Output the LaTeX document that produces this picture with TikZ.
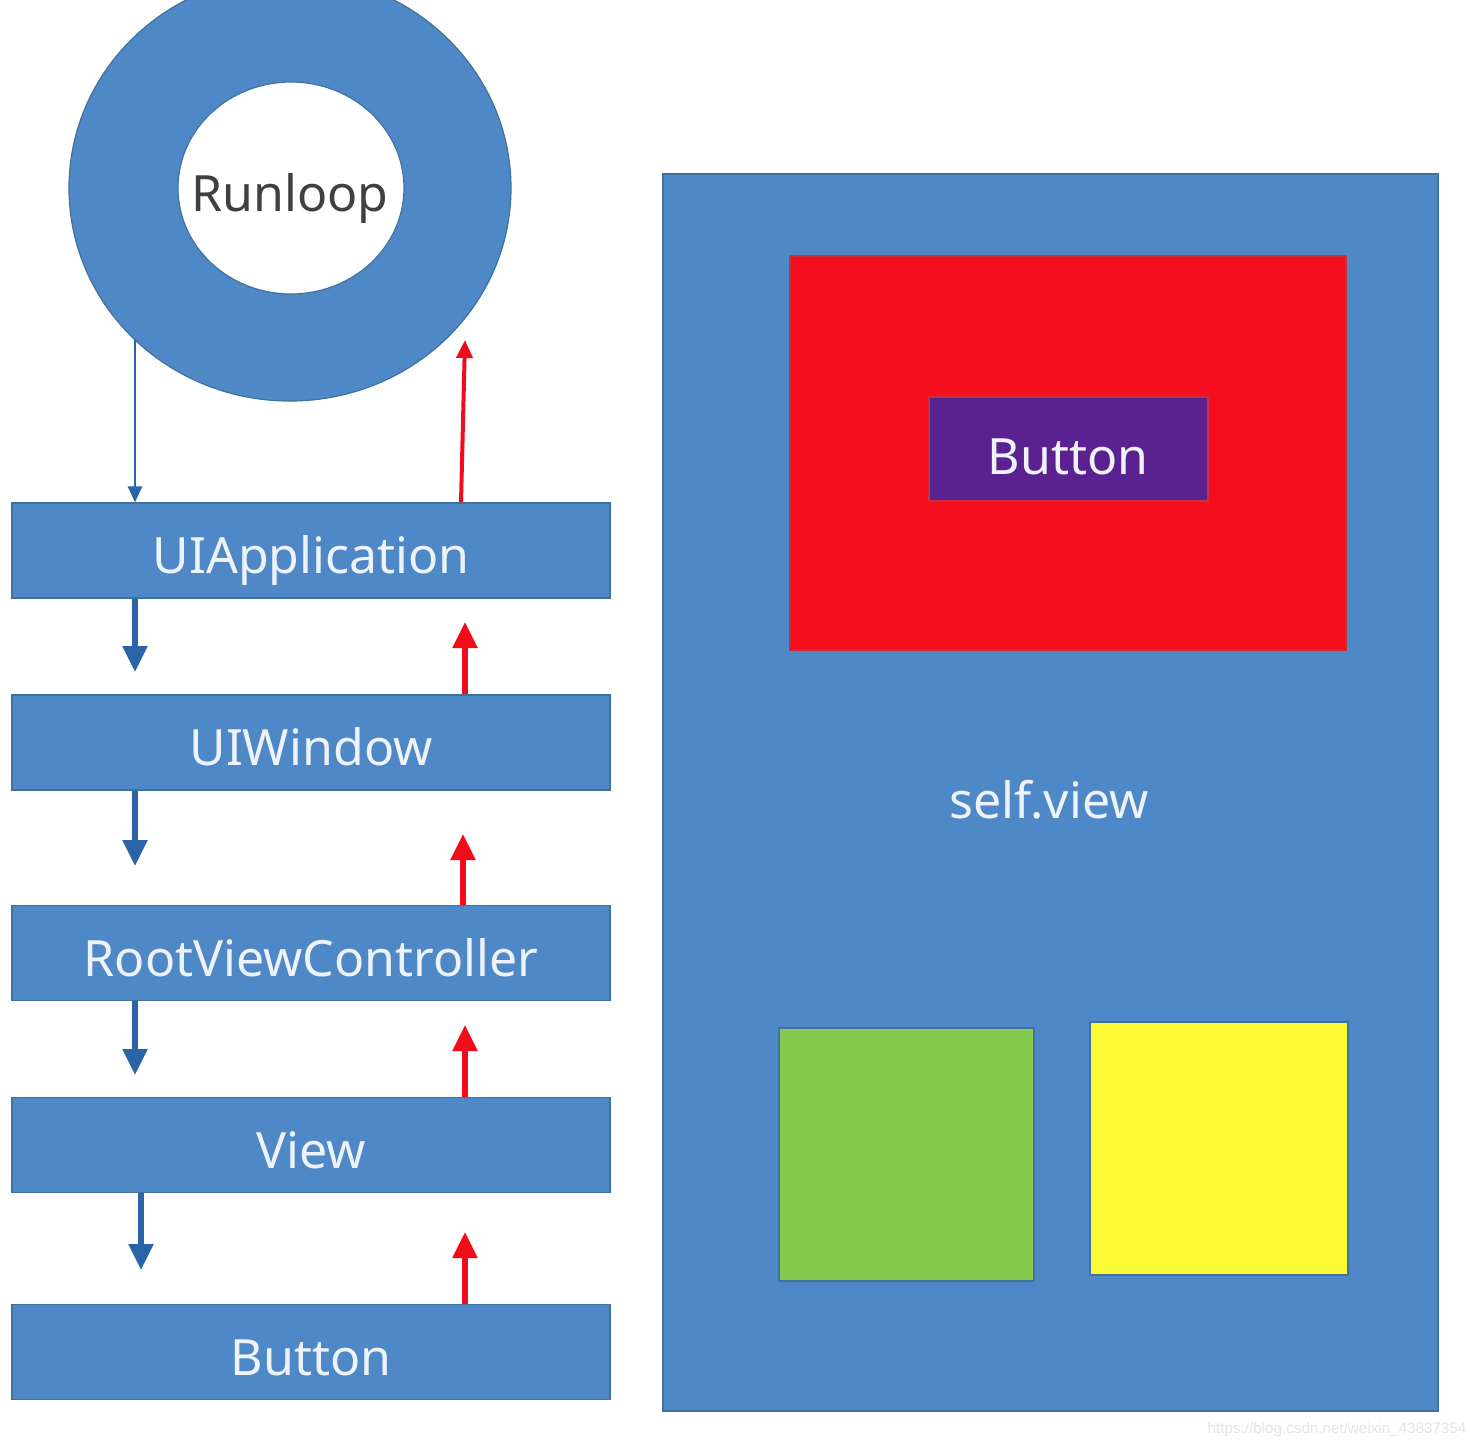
\documentclass[tikz,border=0pt]{standalone}
\usepackage{fontspec}
\setmainfont{Noto Sans}
\newfontfamily\wmfont{Liberation Sans}
\usetikzlibrary{arrows.meta,shapes.geometric}
\definecolor{boxblue}{HTML}{4F88C6}
\definecolor{edgeblue}{HTML}{41719C}
\definecolor{arrblue}{HTML}{2B63A8}
\definecolor{arrred}{HTML}{F20C1A}
\definecolor{btnred}{HTML}{F50E1E}
\definecolor{edgered}{HTML}{C8303A}
\definecolor{btnpurple}{HTML}{5C2190}
\definecolor{grn}{HTML}{86C94F}
\definecolor{ylw}{HTML}{FDFA36}
\definecolor{txtwhite}{HTML}{EEF3FA}
\begin{document}
\begin{tikzpicture}[x=0.5pt,y=-0.5pt,
  bigfont/.style={font=\fontsize{25}{30}\selectfont, text height=27pt, text depth=3.6pt},
  layerbox/.style={draw=edgeblue, fill=boxblue, line width=0.6pt, minimum width=299pt, minimum height=47.5pt, inner sep=0pt, text=txtwhite, bigfont},
  plainbox/.style={draw=edgeblue, line width=0.6pt, inner sep=0pt},
  downarr/.style={draw=arrblue, line width=2.6pt, -{Triangle[width=12pt,length=13pt]}},
  uparr/.style={draw=arrred, line width=2.6pt, -{Triangle[width=12pt,length=13pt]}},
  ringdown/.style={draw=arrblue, line width=1.4pt, -{Triangle[width=7pt,length=8pt]}},
  ringup/.style={draw=arrred, line width=2pt, -{Triangle[width=8pt,length=9pt]}}]
\useasboundingbox (0,0) rectangle (1482,1448);
\fill[white] (0,0) rectangle (1482,1448);

% Runloop ring
\node[ellipse, draw=edgeblue, fill=boxblue, line width=0.6pt, minimum width=221pt, minimum height=213pt, inner sep=0pt] (ring) at (290,188) {};
\node[ellipse, draw=edgeblue, fill=white, line width=0.6pt, minimum width=113pt, minimum height=106pt, inner sep=0pt] (hole) at (291,188) {};
\node[text=black!75, bigfont, inner sep=0pt] (runloop) at (290,188) {Runloop};

% layer boxes
\node[layerbox] (app)  at (311,550.5) {UIApplication};
\node[layerbox] (win)  at (311,742.5) {UIWindow};
\node[layerbox] (root) at (311,953)   {RootViewController};
\node[layerbox] (view) at (311,1145)  {View};
\node[layerbox] (btn)  at (311,1352)  {Button};

% arrow end points
\coordinate (r0) at (135,340);
\coordinate (u0) at (465,340);
\coordinate (u0s) at (461,0);
\coordinate (d1) at (135,672);
\coordinate (d2) at (135,866);
\coordinate (d3) at (135,1075);
\coordinate (d4) at (141,1270);
\coordinate (u1) at (465,622);
\coordinate (u2) at (463,834);
\coordinate (u3) at (465,1025);
\coordinate (u4) at (465,1232);

\draw[ringdown] (r0) -- (r0|-app.north);
\draw[ringup] (u0s|-app.north) -- (u0);
\draw[downarr] (d1|-app.south) -- (d1);
\draw[downarr] (d2|-win.south) -- (d2);
\draw[downarr] (d3|-root.south) -- (d3);
\draw[downarr] (d4|-view.south) -- (d4);
\draw[uparr] (u1|-win.north) -- (u1);
\draw[uparr] (u2|-root.north) -- (u2);
\draw[uparr] (u3|-view.north) -- (u3);
\draw[uparr] (u4|-btn.north) -- (u4);

% right panel
\node[plainbox, fill=boxblue, minimum width=387.5pt, minimum height=618.5pt] (selfview) at (1050.5,792.5) {};
\node[text=txtwhite, bigfont, inner sep=0pt] (selflabel) at (1049,795) {self.view};
\node[draw=edgered, fill=btnred, line width=0.6pt, inner sep=0pt, minimum width=278pt, minimum height=197pt] (redview) at (1068,453) {};
\node[draw=edgered, fill=btnpurple, line width=0.6pt, inner sep=0pt, minimum width=139.5pt, minimum height=52pt] (button) at (1068.5,449) {};
\node[text=txtwhite, bigfont, inner sep=0pt] (buttonlabel) at (1068,451) {Button};
\node[plainbox, fill=grn, minimum width=127.5pt, minimum height=126.5pt] (green) at (906.5,1154.5) {};
\node[plainbox, fill=ylw, minimum width=129pt, minimum height=126.5pt] (yellow) at (1219,1148.5) {};

% watermark
\node[text=black!10, font=\wmfont\fontsize{7.6}{9}\selectfont, inner sep=0pt] (wm) at (1337,1430) {https://blog.csdn.net/weixin\_43837354};
\end{tikzpicture}
\end{document}
